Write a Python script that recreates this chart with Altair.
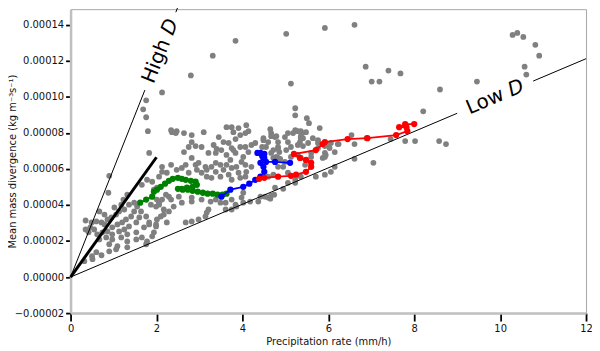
import altair as alt
import pandas as pd

# ---------------- data ----------------
# y values are in units of 1e-5 kg m^-3 s^-1
gray_x = [3.31, 3.84, 5.02, 5.13, 5.92, 6.61, 6.87, 7.01, 7.19, 7.40, 7.68, 8.21, 8.60, 9.46,
          10.29, 10.40, 10.54, 10.82, 10.91, 10.57, 10.61, 8.58, 8.74, 8.02, 7.79, 7.45, 6.89, 6.54,
          7.05, 6.61, 6.24, 6.15, 6.03, 5.92, 5.87, 5.60, 5.60, 5.60, 5.76, 5.76, 5.80, 5.50, 5.55,
          5.36, 5.39, 5.36, 5.23, 5.23, 5.48, 5.29, 5.18, 5.06, 4.99, 4.76, 4.65, 4.79, 4.67, 5.23,
          5.36, 5.34, 5.29, 5.41, 5.76, 5.92, 5.99, 6.22, 5.92, 5.94, 4.83, 5.02, 4.79, 4.88, 4.46,
          4.49, 4.83, 4.95, 5.23, 4.67, 4.60, 4.37, 4.95, 4.76, 5.06, 5.23, 5.36, 5.71, 5.92, 6.06,
          6.15, 5.46, 5.13, 5.29, 5.36, 4.86, 4.67, 4.72, 4.83, 4.99, 5.06, 4.72, 4.60, 4.07, 3.95,
          3.75, 4.74, 4.65, 4.53, 4.18, 4.02, 3.86, 3.75, 3.61, 4.02, 3.84, 3.61, 3.38, 3.21, 3.17,
          3.14, 2.98, 2.82, 2.68, 2.24, 1.99, 1.83, 1.94, 1.90, 2.10, 2.17, 2.29, 2.17, 2.06, 2.13,
          2.34, 2.52, 2.82, 1.99, 2.40, 2.59, 2.82, 3.05, 3.26, 3.49, 3.75, 3.98, 4.42, 2.29, 1.94,
          1.90, 2.06, 2.13, 2.24, 2.47, 2.59, 2.68, 2.75, 2.91, 2.94, 3.05, 3.17, 3.28, 3.49, 3.68,
          3.91, 4.09, 4.21, 4.07, 3.86, 3.75, 3.56, 3.38, 3.17, 3.28, 3.38, 3.49, 3.63, 3.72, 3.98,
          4.02, 4.14, 4.30, 4.07, 3.84, 3.75, 3.40, 3.21, 2.64, 2.91, 2.82, 2.82, 2.45, 2.36, 3.56,
          3.68, 3.84, 3.95, 3.79, 3.63, 4.09, 4.14, 3.91, 3.75, 4.07, 3.45, 3.10, 2.64, 2.75, 3.05,
          3.33, 3.51, 3.38, 3.63, 3.79, 3.95, 4.21, 4.49, 4.67, 4.83, 4.60, 4.55, 4.72, 4.83, 5.06,
          5.13, 5.41, 5.53, 5.64, 6.06, 6.61, 2.82, 2.98, 3.14, 2.13, 1.83, 1.76, 1.76, 2.13, 2.80,
          1.69, 1.80, 2.34, 2.47, 2.34, 2.01, 0.90, 0.88, 0.67, 0.60, 0.72, 0.79, 0.86, 0.95, 1.06,
          1.13, 1.25, 1.36, 1.48, 1.55, 1.48, 1.41, 1.29, 1.20, 1.09, 0.97, 0.86, 0.74, 0.62, 0.67,
          0.83, 0.97, 1.13, 1.25, 1.36, 1.53, 1.60, 1.64, 1.76, 1.83, 1.71, 1.53, 1.32, 1.18, 0.97,
          0.90, 1.09, 1.32, 1.53, 1.66, 1.78, 1.32, 1.06, 0.90, 0.72, 0.51, 0.32, 1.76, 1.99, 2.01,
          1.87, 2.06, 2.01, 2.22, 1.66, 1.78, 0.42, 0.49, 0.35, 0.35, 0.60, 0.46, 0.55, 0.79, 1.02,
          1.23, 1.32, 1.18, 0.50]
gray_y = [12.29, 13.11, 13.50, 10.74, 13.83, 14.00, 11.68, 10.85, 10.85, 11.46, 11.30, 9.20, 10.41, 10.85,
          13.44, 13.55, 13.33, 12.89, 12.29, 11.68, 11.24, 7.55, 7.38, 7.55, 7.55, 7.66, 7.71, 7.88,
          6.34, 6.56, 7.38, 6.94, 7.16, 6.89, 6.61, 6.89, 6.67, 6.34, 7.16, 7.60, 8.27, 8.82, 8.54,
          8.10, 7.99, 7.71, 9.37, 8.98, 8.04, 8.10, 7.99, 7.99, 7.77, 7.77, 8.21, 7.82, 7.82, 8.15,
          7.82, 7.49, 7.33, 7.27, 7.44, 7.27, 7.33, 7.38, 6.67, 6.78, 7.11, 7.05, 6.67, 6.56, 7.22,
          7.60, 6.12, 6.12, 5.23, 4.52, 4.41, 4.19, 4.90, 4.96, 5.23, 5.40, 5.57, 5.57, 5.68, 5.84,
          6.12, 6.23, 6.67, 6.78, 6.61, 6.94, 6.89, 6.61, 6.61, 6.39, 5.79, 5.68, 5.57, 5.57, 5.51,
          5.40, 4.57, 4.35, 4.46, 4.19, 4.13, 3.91, 3.75, 3.75, 4.68, 4.02, 4.13, 4.30, 3.75, 3.58,
          3.36, 3.20, 3.09, 3.03, 3.03, 2.92, 2.92, 2.48, 2.26, 3.36, 3.47, 3.64, 3.75, 4.02, 4.30,
          4.30, 4.46, 4.41, 3.91, 3.91, 4.13, 4.19, 4.30, 4.19, 4.13, 4.30, 4.41, 4.46, 4.46, 4.85,
          5.29, 5.57, 5.84, 5.79, 5.95, 6.06, 6.23, 5.79, 6.23, 5.95, 5.79, 5.57, 5.51, 5.57, 5.68,
          5.79, 5.84, 6.12, 6.23, 6.12, 6.06, 5.95, 5.84, 5.95, 6.12, 6.34, 6.23, 6.23, 6.50, 6.39,
          6.67, 6.94, 7.44, 7.22, 6.89, 7.16, 7.11, 6.89, 6.94, 7.27, 7.49, 7.88, 7.99, 8.04, 7.49,
          7.44, 7.66, 7.88, 8.04, 8.32, 8.43, 8.10, 8.27, 8.32, 7.99, 7.77, 8.04, 7.99, 7.22, 7.22,
          7.33, 7.05, 6.89, 6.78, 7.05, 7.22, 7.33, 7.71, 7.99, 7.49, 7.49, 7.22, 7.05, 7.22, 7.49,
          7.22, 7.71, 7.44, 7.71, 7.44, 7.38, 6.61, 6.34, 6.12, 6.12, 6.89, 9.81, 8.87, 10.25, 11.19,
          9.31, 8.10, 8.15, 8.10, 6.23, 4.96, 5.62, 4.68, 3.64, 3.09, 3.03, 2.92, 3.20, 3.31, 3.47,
          3.64, 3.75, 4.02, 4.13, 3.91, 3.64, 3.36, 3.20, 3.03, 2.92, 2.76, 2.53, 2.48, 2.37, 2.09,
          2.20, 2.37, 2.53, 2.64, 2.81, 3.03, 3.31, 3.64, 3.36, 3.03, 2.76, 2.48, 2.37, 2.20, 2.09,
          1.82, 1.71, 1.98, 2.09, 2.20, 1.98, 1.65, 1.54, 1.43, 1.21, 0.99, 0.88, 1.82, 2.81, 3.20,
          4.02, 4.13, 4.30, 4.57, 5.12, 5.40, 2.48, 3.03, 3.14, 2.64, 1.38, 2.76, 2.64, 3.47, 3.86,
          4.30, 4.57, 4.02, 1.16]

green_x = [1.62, 1.76, 1.90, 1.94, 2.01, 2.10, 2.20, 2.29, 2.38, 2.50, 2.59, 2.68, 2.80, 2.91, 2.94,
           2.84, 2.71, 2.59, 2.50, 2.61, 2.73, 2.84, 2.96, 3.08, 3.19, 3.31, 3.42, 3.54, 3.63]
green_y = [4.13, 4.30, 4.46, 4.74, 4.85, 5.01, 5.18, 5.34, 5.45, 5.51, 5.45, 5.40, 5.34, 5.29, 5.12,
           5.01, 4.96, 4.90, 4.90, 4.85, 4.85, 4.79, 4.74, 4.68, 4.63, 4.63, 4.57, 4.57, 4.63]

blue_x = [3.51, 3.72, 4.02, 4.16, 4.30, 4.42, 4.51, 4.49, 4.42, 4.49, 4.46, 4.35, 4.42, 4.51, 4.51,
          4.55, 4.76, 5.11]
blue_y = [4.46, 4.85, 5.01, 5.18, 5.40, 5.57, 5.84, 6.12, 6.34, 6.50, 6.72, 6.89, 6.89, 6.83, 6.61,
          6.39, 6.39, 6.34]

red_x = [4.39, 4.51, 4.83, 5.13, 5.25, 5.48, 5.60, 5.60, 5.48, 5.34, 5.20, 5.71, 5.87, 5.92, 6.45,
         6.91, 7.58, 7.84, 7.82, 7.65, 7.79, 8.00]
red_y = [5.45, 5.51, 5.57, 5.62, 5.68, 5.84, 6.12, 6.34, 6.50, 6.61, 6.83, 7.05, 7.38, 7.49, 7.66,
         7.71, 7.88, 8.10, 8.32, 8.32, 8.49, 8.49]

# reference lines "High D" (slope 6e-5) and "Low D" (slope 1.01e-5), broken where the labels sit
ref_seg = ["high_a", "high_a", "high_b", "high_b", "low_a", "low_a", "low_b", "low_b"]
ref_x = [0.0, 1.73, 2.45, 2.60, 0.0, 9.00, 10.77, 12.0]
ref_y = [0.0, 10.38, 14.70, 15.60, 0.0, 9.09, 10.88, 12.12]

thick_x = [0.0, 2.0]
thick_y = [0.0, 6.65]

x_ticks = [0, 2, 4, 6, 8, 10, 12]
y_ticks = [-0.00002, 0.0, 0.00002, 0.00004, 0.00006, 0.00008, 0.00010, 0.00012, 0.00014]

UNIT = 1e-5


def frame(xs, ys, **extra):
    d = pd.DataFrame({"x": xs, "y": [v * UNIT for v in ys]})
    d["i"] = range(len(d))
    for k, v in extra.items():
        d[k] = v
    return d


gray_df = frame(gray_x, gray_y)
green_df = frame(green_x, green_y)
blue_df = frame(blue_x, blue_y)
red_df = frame(red_x, red_y)
ref_df = frame(ref_x, ref_y, seg=ref_seg)
thick_df = frame(thick_x, thick_y)

FONT = "DejaVu Sans"

xs = alt.Scale(domain=[0, 12], nice=False, zero=False)
ys = alt.Scale(domain=[-0.00002, 0.0001487], nice=False, zero=False)

x_axis = alt.Axis(values=x_ticks, format="d", title="Precipitation rate (mm/h)",
                  tickSize=8, labelPadding=3, labelFlush=False,
                  titleY=32, titleBaseline="alphabetic")
y_axis = alt.Axis(values=y_ticks, format=".5f", title="Mean mass divergence (kg m⁻³s⁻¹)",
                  tickSize=5, labelPadding=2, labelFlush=False,
                  titleX=-55, titleY=153, titleAngle=270,
                  titleBaseline="alphabetic", titleAlign="center")

X = alt.X("x:Q", scale=xs, axis=x_axis)
Y = alt.Y("y:Q", scale=ys, axis=y_axis)

gray = alt.Chart(gray_df).mark_circle(size=34, color="#808080", opacity=1).encode(x=X, y=Y)

ref_lines = alt.Chart(ref_df).mark_line(color="black", strokeWidth=1).encode(
    x=X, y=Y, detail="seg:N", order="i:Q")

thick = alt.Chart(thick_df).mark_line(color="black", strokeWidth=3).encode(x=X, y=Y, order="i:Q")


def series(df, color):
    ln = alt.Chart(df).mark_line(color=color, strokeWidth=1.8).encode(x=X, y=Y, order="i:Q")
    pt = alt.Chart(df).mark_circle(size=40, color=color, opacity=1).encode(x=X, y=Y)
    return [ln, pt]


label_df = pd.DataFrame({
    "x": [2.09, 2.09, 9.88, 9.88],
    "y": [12.54 * UNIT, 12.54 * UNIT, 9.98 * UNIT, 9.98 * UNIT],
})


def label(row, text, align, dx, angle, italic):
    kw = dict(font=FONT, fontSize=20, baseline="middle", align=align, dx=dx,
              angle=angle, color="black", text=text)
    if italic:
        kw["fontStyle"] = "italic"
    return alt.Chart(label_df.iloc[[row]]).mark_text(**kw).encode(x=X, y=Y)


texts = [
    label(0, "High", "right", 12.1, 291.7, False),
    label(1, "D", "left", 18.5, 291.7, True),
    label(2, "Low", "right", 8.95, 337, False),
    label(3, "D", "left", 15.35, 337, True),
]

layers = [gray, ref_lines, thick] + series(green_df, "#008000") + series(blue_df, "#0000ff") \
    + series(red_df, "#ff0000") + texts

chart = alt.layer(*layers).properties(
    width=519, height=306,
    autosize=alt.AutoSizeParams(type="none"),
    padding={"left": 63, "top": 0, "right": 6, "bottom": 36},
).configure_view(
    stroke="#a6a6a6", strokeWidth=1
).configure_axis(
    grid=False, domainColor="#bfbfbf", domainWidth=2.5,
    tickColor="black", tickWidth=1.8,
    labelFont=FONT, labelFontSize=10, labelColor="#111111",
    titleFont=FONT, titleFontSize=10, titleColor="#111111", titleFontWeight="normal",
)

chart.save("out.html", embed_options={"renderer": "svg", "actions": False})
